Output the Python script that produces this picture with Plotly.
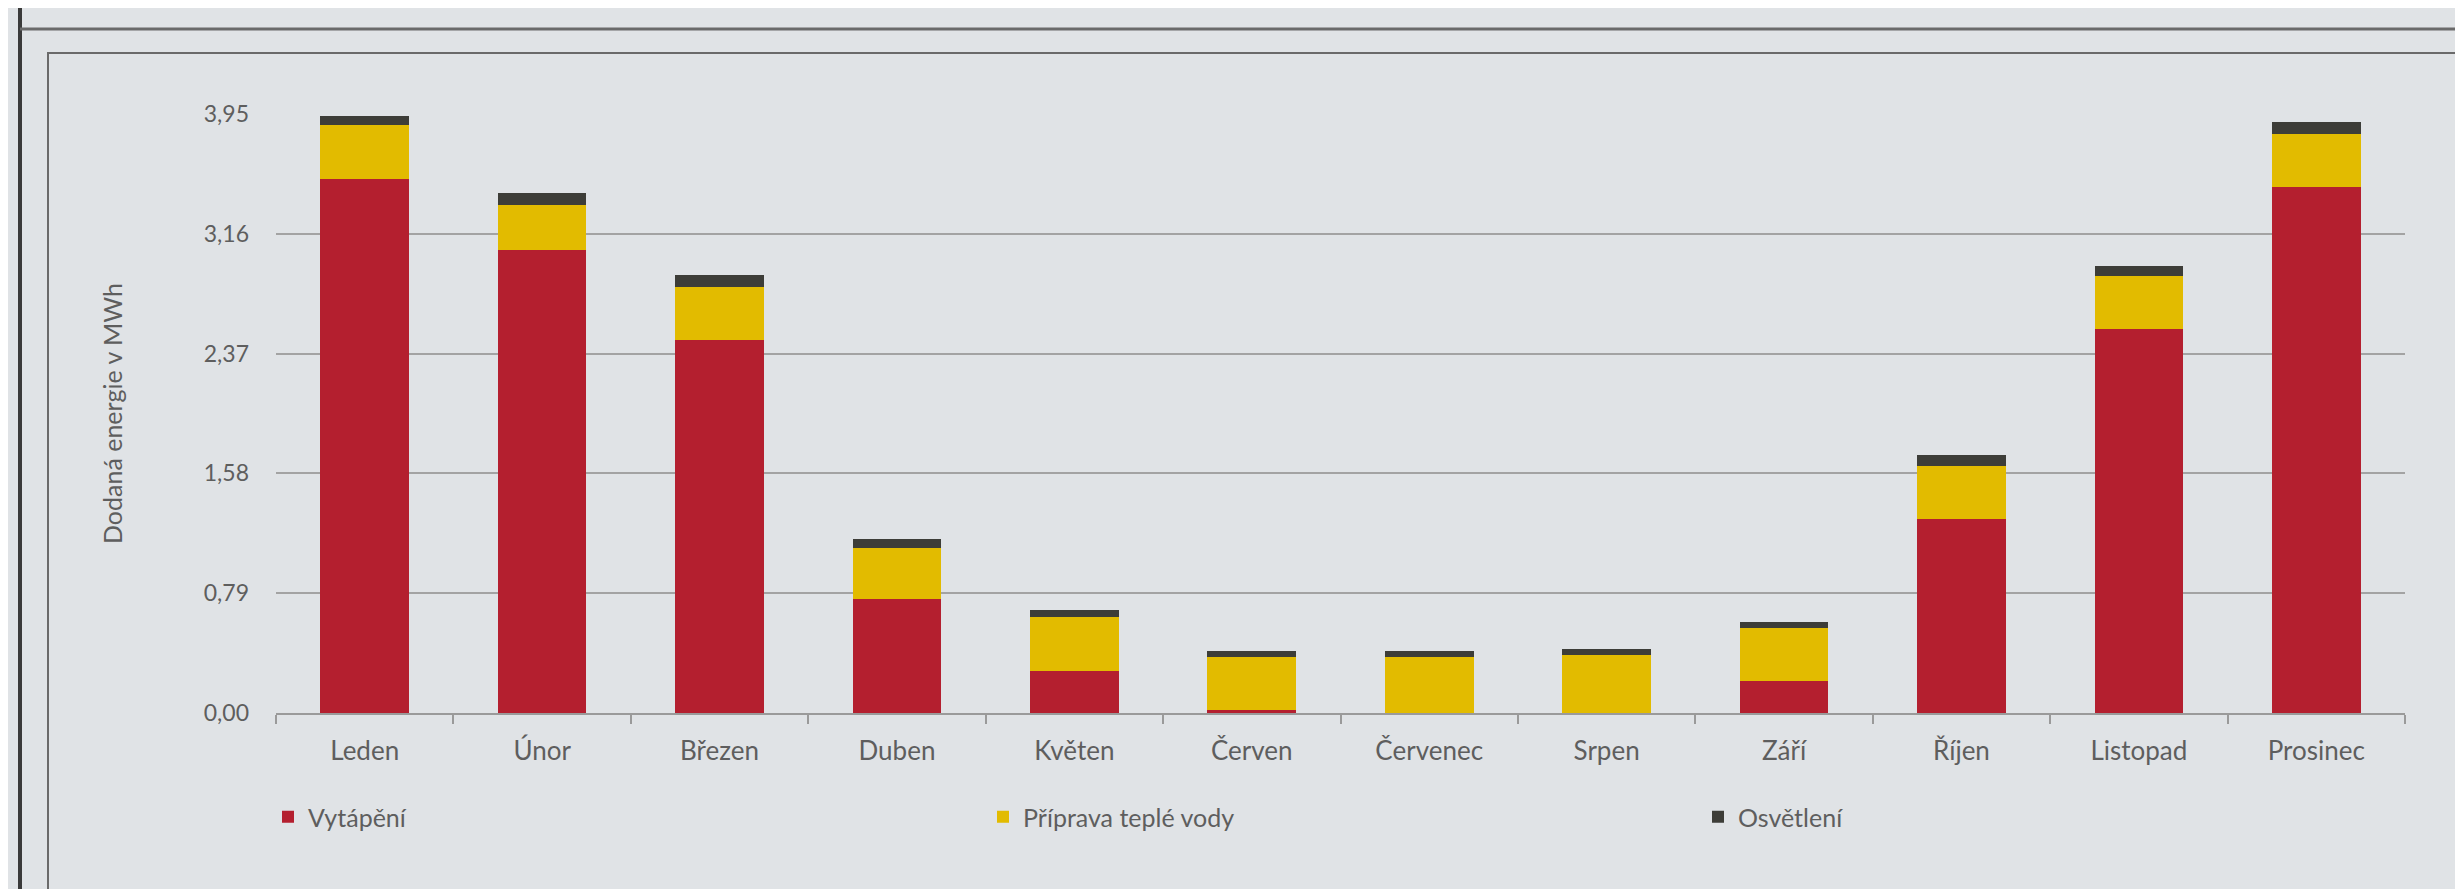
import plotly.graph_objects as go

months = ["Leden", "Únor", "Březen", "Duben", "Květen", "Červen",
          "Červenec", "Srpen", "Září", "Říjen", "Listopad", "Prosinec"]
vytapeni = [3.52, 3.05, 2.46, 0.75, 0.28, 0.02, 0.0, 0.0, 0.21, 1.28, 2.53, 3.47]
priprava_vody = [0.36, 0.30, 0.35, 0.34, 0.35, 0.35, 0.37, 0.38, 0.35, 0.35, 0.35, 0.35]
osvetleni = [0.06, 0.08, 0.08, 0.06, 0.05, 0.04, 0.04, 0.04, 0.04, 0.07, 0.07, 0.08]

tick_vals = [0, 0.79, 1.58, 2.37, 3.16, 3.95]
tick_text = ["0,00", "0,79", "1,58", "2,37", "3,16", "3,95"]

series_names = ["Vytápění", "Příprava teplé vody", "Osvětlení"]
colors = ["#b41f2f", "#e2bb00", "#3d3d38"]

W, H = 2463, 889
ML, MR, MT, MB = 268, 66, 106, 184
font_family = "Lato, 'Open Sans', sans-serif"
text_color = "#5e5e5e"
bg = "#e0e3e6"

fig = go.Figure()
for name, vals, col in zip(series_names, [vytapeni, priprava_vody, osvetleni], colors):
    fig.add_trace(go.Bar(x=months, y=vals, name=name, marker=dict(color=col, line=dict(width=0))))

plot_w = W - ML - MR
plot_h = H - MT - MB

def px_x(px):
    return (px - ML) / plot_w

def px_y(py):
    return (H - MB - py) / plot_h

fig.update_layout(
    width=W, height=H,
    barmode="stack", bargap=0.5,
    paper_bgcolor=bg, plot_bgcolor=bg,
    margin=dict(l=ML, r=MR, t=MT, b=MB, pad=0),
    font=dict(family=font_family, color=text_color, size=26),
    showlegend=True,
    legend=dict(
        orientation="h", x=px_x(260), xanchor="left", y=px_y(809), yanchor="middle",
        entrywidth=670, entrywidthmode="pixels", traceorder="normal",
        font=dict(size=25, color=text_color), bgcolor="rgba(0,0,0,0)",
    ),
    xaxis=dict(
        type="category", showgrid=False, showline=True, linecolor="#9a9a9a", linewidth=2,
        ticks="outside", tickson="boundaries", ticklen=9, tickcolor="#9a9a9a", tickwidth=2,
        tickfont=dict(size=26, color=text_color), ticklabelstandoff=14,
    ),
    yaxis=dict(
        range=[0, 3.95], tickvals=tick_vals, ticktext=tick_text,
        showgrid=True, gridcolor="#a3a3a3", gridwidth=2, zeroline=False, showline=False,
        tickfont=dict(size=23, color=text_color), ticklabelstandoff=26,
        title=dict(text="Dodaná energie v MWh", font=dict(size=25, color=text_color), standoff=74),
    ),
    shapes=[
        dict(type="line", xref="paper", yref="paper", x0=px_x(12), x1=px_x(12), y0=px_y(0), y1=px_y(H),
             line=dict(color="#3a3a3a", width=4)),
        dict(type="line", xref="paper", yref="paper", x0=px_x(12), x1=px_x(W), y0=px_y(21), y1=px_y(21),
             line=dict(color="#6a6a6a", width=3)),
        dict(type="rect", xref="paper", yref="paper", x0=px_x(40), x1=px_x(2455), y0=px_y(45), y1=px_y(884),
             line=dict(color="#6a6a6a", width=2), fillcolor="rgba(0,0,0,0)", layer="below"),
    ],
)

fig.write_html("out.html")
